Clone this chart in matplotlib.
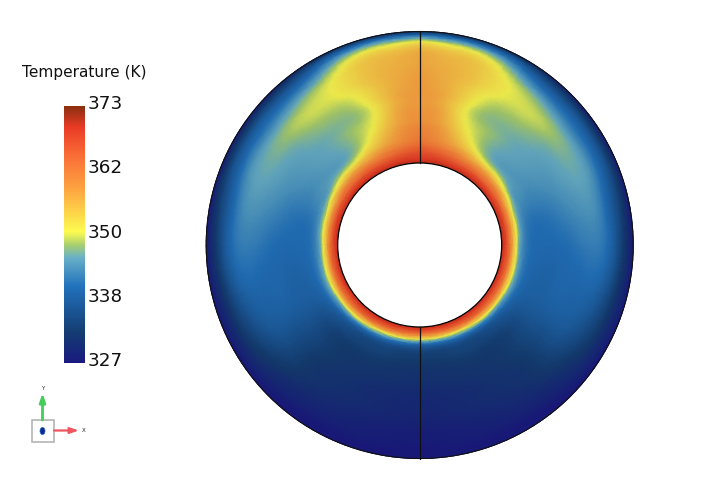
import numpy as np
import matplotlib
matplotlib.use("Agg")
from matplotlib import pyplot as plt
from matplotlib import cm, colors
from matplotlib.patches import Circle, Rectangle, Ellipse
import matplotlib.tri as mtri

# Temperature, K. Rows = angle from the top, columns = radial fraction
angles = [0, 10, 20, 30, 40, 50, 60, 70, 80, 90, 105, 120, 135, 150, 165, 180]
radial = [0, .03, .06, .09, .12, .16, .22, .3, .4, .5, .6, .7, .8, .88, .93, .97, 1]
temps = [
    [371, 369, 367.5, 366, 364.5, 362.5, 361, 359.5, 358.5, 358, 358, 357.5, 357, 355, 350, 341, 331],
    [371, 369, 367, 365, 363, 360.5, 359, 357.5, 356.5, 356, 356, 356, 355.5, 353, 348, 340, 331],
    [371, 368.5, 366, 363.5, 361, 358, 355, 352.5, 350.5, 350.5, 352, 353.5, 353.5, 351, 346, 339, 330.5],
    [371, 368.5, 365.5, 362, 358.5, 355, 350.5, 348.5, 348, 347.5, 349, 350.5, 349.5, 345, 341, 336, 330],
    [371, 368.5, 365, 361, 357.5, 352, 346.5, 346, 346.5, 347, 348.5, 349.5, 346.5, 341, 337.5, 333, 329],
    [371, 368.5, 364.5, 360.5, 356, 350.5, 345.5, 345, 345.5, 346, 347, 348, 344.5, 340, 336.5, 332, 328],
    [371, 368, 364, 359, 354, 347.5, 344.5, 344, 344.5, 345, 346, 346.5, 344, 339.5, 336, 331.5, 328],
    [371, 368, 363.5, 357.5, 351, 345.5, 343, 342.5, 343, 344, 345, 345.5, 343, 338.5, 335, 331, 328],
    [371, 368, 363, 356.5, 350, 344.5, 341.5, 341, 341.5, 342.5, 343.5, 344, 341.5, 337, 333.5, 330, 327.5],
    [371, 367.5, 362.5, 355.5, 348.5, 343.5, 341, 340.5, 340.5, 341, 342, 342.5, 341, 336.5, 332.5, 329.5, 327.5],
    [371, 367.5, 362.5, 355.5, 349, 343.5, 340.5, 339.5, 339.5, 340, 340, 340, 338, 334, 331, 329, 327.5],
    [371, 367.5, 362.5, 355.5, 348.5, 342.5, 339, 338, 338, 338, 338, 337, 334.5, 332, 330, 328.5, 327],
    [371, 367.5, 362.5, 355, 347.5, 340, 336, 334, 334, 333.5, 333, 332.5, 331, 329.5, 328.5, 327.5, 327],
    [371, 367.5, 362, 353.5, 345.5, 338, 334.5, 333, 332, 331.5, 331, 330.5, 329.5, 328.5, 327.5, 327, 327],
    [371, 367, 361, 352, 344, 337, 334, 332.5, 331.5, 330.5, 330, 329.5, 328.5, 328, 327.5, 327, 327],
    [371, 367, 360.5, 351.5, 343, 336.5, 333.5, 332, 331, 330, 329.5, 329, 328, 327.5, 327, 327, 327],
]
bar_ticks = [327, 338, 350, 362, 373]
bar_colors = [(0, "#1a1a80"), (.12, "#143d72"), (.30, "#2272bd"), (.41, "#68b0c8"),
              (.46, "#a8cf70"), (.51, "#fdfb50"), (.685, "#fda040"), (.815, "#f96a35"),
              (.92, "#e83a25"), (1, "#8a2f10")]
field_shade = .93  # field is a bit duller than the bar

W, H = 712, 490
inner = 82 / 213.5
tmin, tmax = 327, 373

cmap = colors.LinearSegmentedColormap.from_list("temp", bar_colors, N=512)
field_cmap = colors.ListedColormap(cmap(np.arange(512))[:, :3] * field_shade)
norm = colors.Normalize(tmin, tmax)

fig = plt.figure(figsize=(W / 100, H / 100), dpi=100)

# annulus, sits at (419.7,245) with radius 213.5 px
ax = fig.add_axes([(419.7 - 215) / W, (H - 245 - 215) / H, 430 / W, 430 / H])
ax.set_xlim(-215 / 213.5, 215 / 213.5)
ax.set_ylim(-215 / 213.5, 215 / 213.5)
ax.axis("off")

th, s = np.meshgrid(np.radians(angles), radial, indexing="ij")
# scale so the triangles are about right physically
tri = mtri.Triangulation(th.ravel() * .69, s.ravel() * .616)
tri_ref, t_ref = mtri.UniformTriRefiner(tri).refine_field(np.array(temps).ravel(), subdiv=3)
th_ref = tri_ref.x / .69
r_ref = inner + tri_ref.y / .616 * (1 - inner)
x = r_ref * np.sin(th_ref)
y = r_ref * np.cos(th_ref)
for side in [1, -1]:
    ax.tripcolor(side * x, y, tri_ref.triangles, t_ref, shading="gouraud", cmap=field_cmap, norm=norm)

ax.add_patch(Circle((0, 0), 1, fill=False, ec="#111111", lw=.8))
ax.add_patch(Circle((0, 0), inner, fc="white", ec="black", lw=.9))
ax.plot([0, 0], [inner, 1], color="#111111", lw=.9)
ax.plot([0, 0], [-inner, -1], color="#111111", lw=.9)

# colorbar
cax = fig.add_axes([64 / W, (H - 363) / H, 21 / W, 257 / H])
cb = fig.colorbar(cm.ScalarMappable(norm=norm, cmap=cmap), cax=cax)
cb.outline.set_visible(False)
cb.set_ticks([])
for i, lab in enumerate(bar_ticks):
    cax.annotate(str(lab), (1, i / 4), xycoords="axes fraction", xytext=(3, 2),
                 textcoords="offset pixels", va="center", ha="left", fontsize=13.2, color="#111111")
fig.text(84.5 / W, 1 - 72 / H, "Temperature (K)", ha="center", va="center", fontsize=11.1, color="#111111")

# axis triad, in pixels
over = fig.add_axes([0, 0, 1, 1])
over.set_xlim(0, W)
over.set_ylim(H, 0)
over.axis("off")
over.patch.set_alpha(0)
over.add_patch(Rectangle((31.5, 420), 22, 22, fc="white", ec="#b5b5b5", lw=1.2))
over.add_patch(Ellipse((42.5, 431), 5, 7, fc="#0f2a80", ec="#1f5fd0", lw=.5))
over.annotate("", xy=(42.5, 393), xytext=(42.5, 420),
              arrowprops=dict(arrowstyle="-|>,head_width=.17,head_length=.5", color="#45cc5a", lw=2, shrinkA=0, shrinkB=0))
over.annotate("", xy=(79, 430.5), xytext=(54, 430.5),
              arrowprops=dict(arrowstyle="-|>,head_width=.17,head_length=.5", color="#ee5560", lw=1.6, shrinkA=0, shrinkB=0))
over.text(42.5, 388, "Y", fontsize=4, ha="center", va="center", color="#222222")
over.text(84, 430.5, "X", fontsize=4, ha="center", va="center", color="#222222")

fig.savefig("out.png", dpi=100)
